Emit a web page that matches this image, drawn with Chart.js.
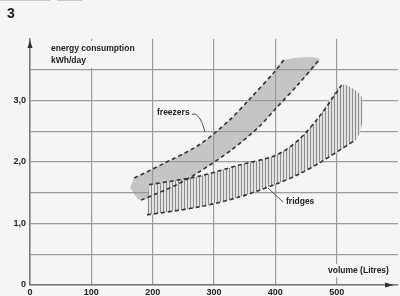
<!DOCTYPE html>
<html>
<head>
<meta charset="utf-8">
<script src="https://cdn.jsdelivr.net/npm/chart.js@4/dist/chart.umd.min.js"></script>
<style>
html,body{margin:0;padding:0;background:#f5f5f5;}
#c{display:block;}
</style>
</head>
<body>
<canvas id="c" width="400" height="296"></canvas>
<script>
// ---- data (volume in litres, energy in kWh/day) ----
const freezerUpperX = [170, 219, 276, 324, 357, 399, 414];
const freezerUpperY = [1.74, 1.98, 2.28, 2.67, 3.01, 3.47, 3.66];
const freezerLowerX = [181, 235, 276, 329, 373, 399, 438, 472];
const freezerLowerY = [1.38, 1.61, 1.84, 2.20, 2.57, 2.85, 3.27, 3.67];
const freezerCapX = [163];
const freezerCapY = [1.58];

const fridgeUpperX = [194, 276, 341, 401, 438, 471, 508];
const fridgeUpperY = [1.63, 1.77, 1.95, 2.11, 2.36, 2.73, 3.25];
const fridgeLowerX = [191, 276, 341, 401, 438, 471, 531];
const fridgeLowerY = [1.14, 1.27, 1.43, 1.64, 1.80, 1.98, 2.36];
const fridgeCapX = [539, 542, 541];
const fridgeCapY = [3.09, 2.85, 2.60];

const xTickValues = [0, 100, 200, 300, 400, 500];
const yTickValues = [0, 1, 2, 3];
const yTickText = ['0', '1,0', '2,0', '3,0'];

const pts = (xs, ys) => xs.map((x, i) => ({x, y: ys[i]}));

const freezerShape = [
  ...pts(freezerUpperX, freezerUpperY),
  ...pts(freezerLowerX, freezerLowerY).reverse(),
  ...pts(freezerCapX, freezerCapY)
];
const fridgeShape = [
  ...pts(fridgeUpperX, fridgeUpperY),
  ...pts(fridgeCapX, fridgeCapY),
  ...pts(fridgeLowerX, fridgeLowerY).reverse()
];

// hatch pattern for fridges
const pc = document.createElement('canvas');
pc.width = 3; pc.height = 6;
const pctx = pc.getContext('2d');
pctx.fillStyle = '#e2e2e2';
pctx.fillRect(0, 0, 3, 6);
pctx.fillStyle = '#8e8e8e';
pctx.fillRect(1, 0, 1, 6);
const hatch = pctx.createPattern(pc, 'repeat');

const FONT = '"Liberation Sans", Arial, sans-serif';
const BG = '#f5f5f5';

const bgPlugin = {
  id: 'bg',
  beforeDraw(chart) {
    const c = chart.ctx;
    c.save();
    c.fillStyle = BG;
    c.fillRect(0, 0, chart.width, chart.height);
    c.strokeStyle = '#c8c8c8';
    c.lineWidth = 1;
    c.beginPath();
    c.moveTo(0, 0.5); c.lineTo(50, 0.5);
    c.moveTo(57, 0.5); c.lineTo(82, 0.5);
    c.stroke();
    c.restore();
  }
};

const annoPlugin = {
  id: 'anno',
  afterDraw(chart) {
    const c = chart.ctx;
    const xs = chart.scales.x, ys = chart.scales.y;
    c.save();
    c.fillStyle = '#1a1a1a';
    c.font = 'bold 14px ' + FONT;
    c.textBaseline = 'middle';
    c.textAlign = 'left';
    c.fillText('3', 7, 14);

    c.fillStyle = BG;
    c.fillRect(42, 41, 100, 27);
    c.fillStyle = '#222';
    c.font = 'bold 8.5px ' + FONT;
    c.fillText('energy consumption', 51, 49);
    c.fillText('kWh/day', 51, 61);

    c.fillStyle = BG;
    c.fillRect(326, 264, 70, 13);
    c.fillStyle = '#222';
    c.font = 'bold 8.5px ' + FONT;
    c.fillText('volume (Litres)', 328, 271);

    c.fillText('freezers', 157, 113);
    c.fillText('fridges', 286, 202);

    c.strokeStyle = '#444';
    c.lineWidth = 0.9;
    c.beginPath();
    c.moveTo(192, 114);
    c.quadraticCurveTo(200, 112, 205, 132);
    c.moveTo(268, 188);
    c.lineTo(283, 202);
    c.stroke();

    const x0 = xs.getPixelForValue(0);
    const yTop = ys.getPixelForValue(4);
    const yBot = ys.getPixelForValue(0);
    const xRight = xs.getPixelForValue(600);
    c.fillStyle = '#333';
    c.beginPath();
    c.moveTo(x0, yTop + 1);
    c.lineTo(x0 - 2.5, yTop + 9);
    c.lineTo(x0 + 2.5, yTop + 9);
    c.closePath();
    c.fill();
    c.beginPath();
    c.moveTo(xRight - 4, yBot);
    c.lineTo(xRight - 13, yBot - 2.5);
    c.lineTo(xRight - 13, yBot + 2.5);
    c.closePath();
    c.fill();
    c.restore();
  }
};

const gridColor = (ctx, maxVal) =>
  (ctx.tick && ctx.tick.value >= maxVal) ? 'rgba(0,0,0,0)' : '#9c9c9c';

const dashLine = (data) => ({
  data, showLine: true, pointRadius: 0, borderColor: '#333',
  borderWidth: 1.6, borderDash: [4, 3], tension: 0.3, fill: false, order: 0
});

new Chart(document.getElementById('c'), {
  type: 'scatter',
  data: {
    datasets: [
      dashLine(pts(freezerUpperX, freezerUpperY)),
      dashLine(pts(freezerLowerX, freezerLowerY)),
      dashLine(pts(fridgeUpperX, fridgeUpperY)),
      dashLine(pts(fridgeLowerX, fridgeLowerY)),
      {
        data: fridgeShape, showLine: true, pointRadius: 0, borderWidth: 0,
        borderColor: 'rgba(0,0,0,0)', backgroundColor: hatch, fill: 'shape',
        tension: 0.3, order: 1
      },
      {
        data: freezerShape, showLine: true, pointRadius: 0, borderWidth: 0,
        borderColor: 'rgba(0,0,0,0)', backgroundColor: 'rgba(150,150,150,0.5)',
        fill: 'shape', tension: 0.3, order: 2
      }
    ]
  },
  options: {
    responsive: false,
    animation: false,
    events: [],
    layout: {padding: {top: 39, right: 0, left: 0, bottom: 0}},
    plugins: {legend: {display: false}, tooltip: {enabled: false}},
    scales: {
      x: {
        type: 'linear', min: 0, max: 600,
        afterFit(s) { s.height = 11; },
        afterBuildTicks(s) { s.ticks = [...xTickValues, 600].map(v => ({value: v})); },
        ticks: {
          autoSkip: false, maxRotation: 0, padding: 2,
          color: '#222', font: {family: FONT, size: 9, weight: 'bold'},
          callback: (v) => xTickValues.includes(v) ? String(v) : ''
        },
        grid: {color: (ctx) => gridColor(ctx, 600), lineWidth: 1.2, drawTicks: false},
        border: {display: true, color: '#777', width: 1.5}
      },
      y: {
        min: 0, max: 4,
        afterFit(s) { s.width = 30; },
        afterBuildTicks(s) {
          const t = [];
          for (let v = 0; v <= 4.0001; v += 0.5) t.push({value: Math.round(v * 10) / 10});
          s.ticks = t;
        },
        ticks: {
          autoSkip: false, padding: 4,
          color: '#222', font: {family: FONT, size: 9, weight: 'bold'},
          callback: (v) => {
            const i = yTickValues.indexOf(v);
            return i >= 0 ? yTickText[i] : '';
          }
        },
        grid: {color: (ctx) => gridColor(ctx, 4), lineWidth: 1.2, drawTicks: false},
        border: {display: true, color: '#777', width: 1.5}
      }
    }
  },
  plugins: [bgPlugin, annoPlugin]
});
</script>
</body>
</html>
